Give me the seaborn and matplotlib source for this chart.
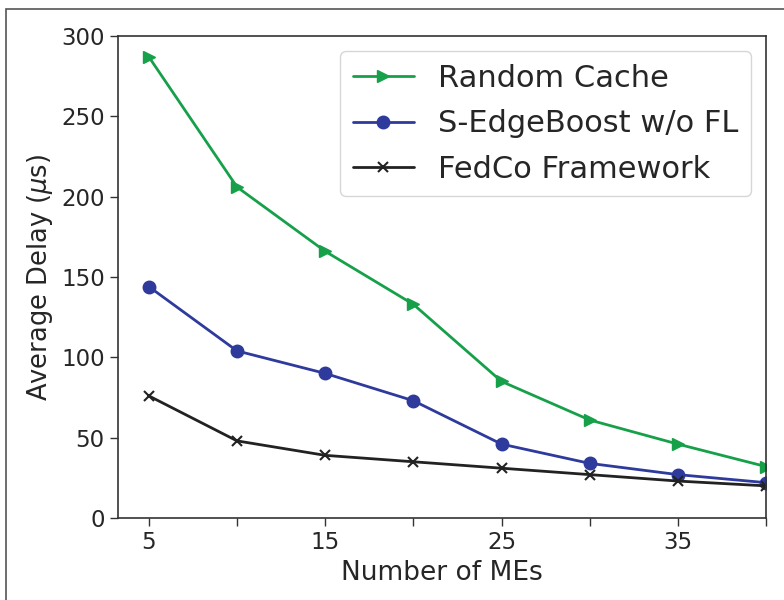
import numpy as np
import pandas as pd
import matplotlib
matplotlib.use("Agg")
import matplotlib.pyplot as plt
import seaborn as sns
from matplotlib.patches import Rectangle

# Data
num_mes = [5, 10, 15, 20, 25, 30, 35, 40]
random_cache = [287, 206, 166, 133, 85, 61, 46, 32]
edgeboost_wo_fl = [144, 104, 90, 73, 46, 34, 27, 22]
fedco = [76, 48, 39, 35, 31, 27, 23, 20]

series = {
    "Random Cache": random_cache,
    "S-EdgeBoost w/o FL": edgeboost_wo_fl,
    "FedCo Framework": fedco,
}
STYLE = {
    "Random Cache": ("#17a04a", ">"),
    "S-EdgeBoost w/o FL": ("#2e3a9c", "o"),
    "FedCo Framework": ("#222222", "x"),
}

sns.set_style("ticks")
plt.rcParams["font.family"] = ["DejaVu Sans"]
plt.rcParams["text.color"] = "#262626"
plt.rcParams["axes.labelcolor"] = "#262626"

df = pd.concat(
    [pd.DataFrame({"MEs": num_mes, "delay": v, "method": k}) for k, v in series.items()],
    ignore_index=True,
)

fig = plt.figure(figsize=(7.84, 6.0), dpi=100)
ax = fig.add_axes([118 / 784, 82 / 600, (766 - 118) / 784, (518 - 36) / 600])

for name, (color, marker) in STYLE.items():
    sns.lineplot(
        data=df[df["method"] == name], x="MEs", y="delay", ax=ax,
        color=color, marker=marker, markersize=9 if marker != "x" else 7.5,
        markeredgecolor=color, markeredgewidth=1.5 if marker == "x" else 1,
        linewidth=2, label=name,
    )

ax.set_xlim(3.25, 40)
ax.set_ylim(0, 300)
ax.set_xticks(num_mes)
ax.set_xticklabels([str(x) if x in (5, 15, 25, 35) else "" for x in num_mes])
ax.set_yticks(range(0, 301, 50))
ax.tick_params(labelsize=16.5, length=6, width=1.0, color="#333333", labelcolor="#262626")
for s in ax.spines.values():
    s.set_visible(True)
    s.set_color("#333333")
    s.set_linewidth(1.2)

ax.set_xlabel("Number of MEs", fontsize=19)
ax.set_ylabel(r"Average Delay ($\mu$s)", fontsize=18.5)

ax.legend(loc="upper right", fontsize=22, frameon=True, borderaxespad=0.5,
          handlelength=2.0, labelspacing=0.55)

# outer frame around the figure
fig.patches.append(Rectangle((6 / 784, -0.1), 1.2, 1.1 - 9 / 600,
                             transform=fig.transFigure, fill=False,
                             edgecolor="#555555", linewidth=1.2))

fig.savefig("out.png", dpi=100)
